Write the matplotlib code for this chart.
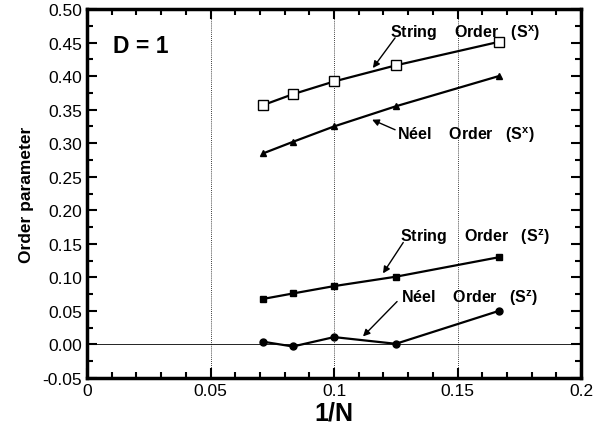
import numpy as np
import matplotlib.pyplot as plt
from matplotlib.ticker import MultipleLocator

plt.rcParams['font.family'] = ['Liberation Sans', 'DejaVu Sans']
plt.rcParams['mathtext.fontset'] = 'custom'
plt.rcParams['mathtext.rm'] = 'Liberation Sans:bold'
plt.rcParams['mathtext.it'] = 'Liberation Sans:bold'
plt.rcParams['mathtext.bf'] = 'Liberation Sans:bold'

# 1/N for N = 14, 12, 10, 8, 6
inv_n = [1/14, 1/12, 1/10, 1/8, 1/6]
string_sx = [0.357, 0.373, 0.392, 0.416, 0.451]
neel_sx = [0.285, 0.302, 0.325, 0.355, 0.400]
string_sz = [0.068, 0.076, 0.087, 0.101, 0.130]
neel_sz = [0.004, -0.003, 0.011, 0.001, 0.050]

labels = ['String    Order   (S$^\\mathbf{x}$)', 'Néel    Order   (S$^\\mathbf{x}$)',
          'String    Order   (S$^\\mathbf{z}$)', 'Néel    Order   (S$^\\mathbf{z}$)']
label_pos = [(0.1227, 0.466), (0.1255, 0.314), (0.1267, 0.162), (0.1271, 0.070)]
arrow_tail = [(0.1247, 0.457), (0.1247, 0.320), (0.1280, 0.152), (0.1255, 0.064)]
arrow_head = [(0.1157, 0.412), (0.1154, 0.335), (0.1198, 0.106), (0.1117, 0.012)]

fig = plt.figure(figsize=(5.93, 4.31), dpi=100)
ax = fig.add_axes([0.1467, 0.1206, 0.8333, 0.8562])

ax.plot(inv_n, string_sx, color='black', lw=1.6, marker='s', ms=7,
        mfc='white', mec='black', mew=1.0)
ax.plot(inv_n, neel_sx, color='black', lw=1.6, marker='^', ms=4.5)
ax.plot(inv_n, string_sz, color='black', lw=1.6, marker='s', ms=4.5)
ax.plot(inv_n, neel_sz, color='black', lw=1.6, marker='o', ms=5)

for xv in [0.05, 0.1, 0.15]:
    ax.axvline(xv, color='black', lw=0.6, ls=(0, (1, 1.5)), zorder=0)
ax.axhline(0, color='black', lw=0.6, zorder=0)

ax.set_xlim(0, 0.2)
ax.set_ylim(-0.05, 0.5)
ax.set_xticks([0, 0.05, 0.1, 0.15, 0.2])
ax.set_xticklabels(['0', '0.05', '0.1', '0.15', '0.2'])
ax.set_yticks(np.arange(-0.05, 0.501, 0.05))
ax.set_yticklabels(['-0.05'] + ['%.2f' % v for v in np.arange(0, 0.501, 0.05)])
ax.xaxis.set_minor_locator(MultipleLocator(0.01))
ax.yaxis.set_minor_locator(MultipleLocator(0.025))
ax.tick_params(which='both', direction='in', top=True, right=True,
               labelsize=12.5, width=1.5)
ax.tick_params(which='major', length=7)
ax.tick_params(which='minor', length=4)
for s in ax.spines.values():
    s.set_linewidth(2.5)

ax.set_xlabel('1/N', fontsize=18, fontweight='bold', labelpad=2)
ax.set_ylabel('Order parameter', fontsize=12.5, fontweight='bold', labelpad=6)

ax.text(0.0105, 0.446, 'D = 1', fontsize=16.5, fontweight='bold', va='center')

for lab, pos, tail, head in zip(labels, label_pos, arrow_tail, arrow_head):
    ax.text(pos[0], pos[1], lab, fontsize=11.5, fontweight='bold', va='center', ha='left')
    ax.annotate('', xy=head, xytext=tail,
                arrowprops=dict(arrowstyle='-|>', color='black', lw=1.0,
                                mutation_scale=10, shrinkA=0, shrinkB=0))

fig.savefig('out.png', dpi=100)
